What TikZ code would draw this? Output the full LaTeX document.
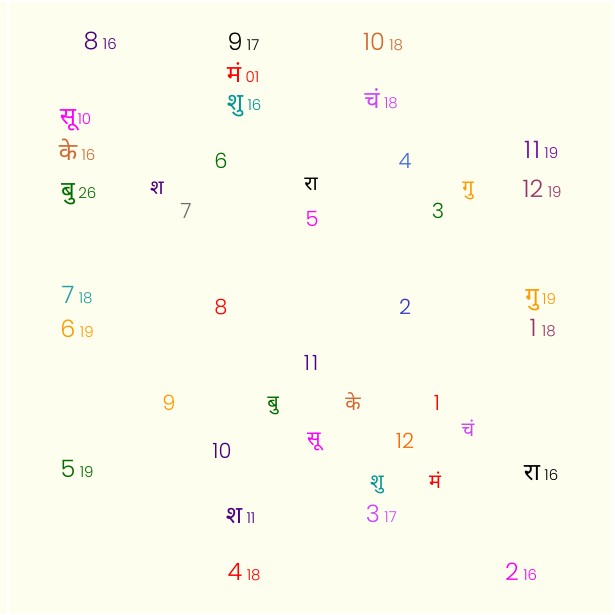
\documentclass[tikz,border=0pt]{standalone}
\usepackage{fontspec}
\setmainfont{Poppins}[UprightFont={* Light}]
\newfontfamily\dev[Script=Devanagari]{Noto Sans}
\definecolor{bgiv}{RGB}{254,254,238}
\definecolor{cindigo}{RGB}{75,0,130}
\definecolor{cteal}{RGB}{0,150,150}
\definecolor{cteall}{RGB}{32,160,160}
\definecolor{cchoc}{RGB}{210,105,50}
\definecolor{cviolet}{RGB}{204,68,255}
\definecolor{cmag}{RGB}{255,0,255}
\definecolor{cgreen}{RGB}{0,110,0}
\definecolor{cpurple}{RGB}{110,10,160}
\definecolor{cmaroon}{RGB}{153,51,102}
\definecolor{corange}{RGB}{255,153,0}
\definecolor{cored}{RGB}{255,102,0}
\definecolor{croyal}{RGB}{65,105,225}
\definecolor{cblue}{RGB}{51,51,204}
\definecolor{cgray}{RGB}{110,110,110}
\begin{document}
\begin{tikzpicture}[x=1pt,y=-1pt,
  big/.style={inner sep=0pt,anchor=center,font=\fontsize{24}{26}\selectfont},
  bigdev/.style={inner sep=0pt,anchor=center,font=\fontsize{24}{26}\selectfont\dev},
  sub/.style={inner sep=0pt,anchor=base west,font=\fontsize{15}{17}\selectfont},
  inr/.style={inner sep=0pt,anchor=center,font=\fontsize{21}{23}\selectfont},
  inrdev/.style={inner sep=0pt,anchor=center,font=\fontsize{20}{22}\selectfont\dev}]
\useasboundingbox (0,0) rectangle (615,614);
\fill[bgiv] (0,0) rectangle (615,614);
\fill[white] (7,0) rectangle (10,614);
\fill[white] (0,0) rectangle (615,2);
\fill[white] (612,0) rectangle (615,614);
% outer labels with degrees
\node[big,cindigo] (o8) at (91,41) {8};
\node[sub,cindigo] (o8s) at ([xshift=4pt]o8.base east) {16};
\node[big,black] (o9) at (235,42) {9};
\node[sub,black] (o9s) at ([xshift=4pt]o9.base east) {17};
\node[bigdev,red] (oMa) at (234,73) {मं};
\node[sub,red] (oMas) at ([xshift=4pt]oMa.base east) {01};
\node[bigdev,cteal] (oShu) at (235,106) {शु};
\node[sub,cteal] (oShus) at ([xshift=4pt]oShu.base east) {16};
\node[big,cchoc] (o10) at (374,42) {10};
\node[sub,cchoc] (o10s) at ([xshift=4pt]o10.base east) {18};
\node[bigdev,cviolet] (oCh) at (372,99) {चं};
\node[sub,cviolet] (oChs) at ([xshift=4pt]oCh.base east) {18};
\node[bigdev,cmag] (oSu) at (68,120) {सू};
\node[sub,cmag] (oSus) at ([xshift=1pt]oSu.base east) {10};
\node[bigdev,cchoc] (oKe) at (68,150) {के};
\node[sub,cchoc] (oKes) at ([xshift=4pt]oKe.base east) {16};
\node[bigdev,cgreen] (oBu) at (68,194) {बु};
\node[sub,cgreen] (oBus) at ([xshift=3pt]oBu.base east) {26};
\node[big,cpurple] (o11) at (532,150) {1\kern2pt1};
\node[sub,cpurple] (o11s) at ([xshift=4pt]o11.base east) {19};
\node[big,cmaroon] (o12) at (533,189) {12};
\node[sub,cmaroon] (o12s) at ([xshift=4pt]o12.base east) {19};
\node[big,cteall] (o7) at (68,295) {7};
\node[sub,cteall] (o7s) at ([xshift=4pt]o7.base east) {18};
\node[big,corange] (o6) at (68,329) {6};
\node[sub,corange] (o6s) at ([xshift=4pt]o6.base east) {19};
\node[bigdev,corange] (oGu) at (532,300) {गु};
\node[sub,corange] (oGus) at ([xshift=3pt]oGu.base east) {19};
\node[big,cmaroon] (o1) at (533,328) {1};
\node[sub,cmaroon] (o1s) at ([xshift=5pt]o1.base east) {18};
\node[big,cgreen] (o5) at (68,469) {5};
\node[sub,cgreen] (o5s) at ([xshift=4pt]o5.base east) {19};
\node[bigdev,black] (oRa) at (532,473) {रा};
\node[sub,black] (oRas) at ([xshift=4pt]oRa.base east) {16};
\node[bigdev,cindigo] (oSha) at (234,516) {श};
\node[sub,cindigo] (oShas) at ([xshift=4pt]oSha.base east) {11};
\node[big,cviolet] (o3) at (373,514) {3};
\node[sub,cviolet] (o3s) at ([xshift=4pt]o3.base east) {17};
\node[big,red] (o4) at (235,572) {4};
\node[sub,red] (o4s) at ([xshift=4pt]o4.base east) {18};
\node[big,cmag] (o2) at (512,572) {2};
\node[sub,cmag] (o2s) at ([xshift=4pt]o2.base east) {16};
% inner chart
\node[inr,cgreen] (i6) at (221,161) {6};
\node[inrdev,cindigo] (iSha) at (157,188) {श};
\node[inr,cgray] (i7) at (186,211) {7};
\node[inrdev,black] (iRa) at (311,184) {रा};
\node[inr,cmag] (i5) at (312,219) {5};
\node[inr,croyal] (i4) at (405,161) {4};
\node[inrdev,corange] (iGu) at (468,191) {गु};
\node[inr,cgreen] (i3) at (438,211) {3};
\node[inr,red] (i8) at (221,307) {8};
\node[inr,cblue] (i2) at (405,307) {2};
\node[inr,cindigo] (i11) at (311,363) {1\kern2pt1};
\node[inr,corange] (i9) at (169,403) {9};
\node[inrdev,cgreen] (iBu) at (273,406) {बु};
\node[inrdev,cchoc] (iKe) at (353,402) {के};
\node[inr,red] (i1) at (437,403) {1};
\node[inrdev,cviolet] (iCh) at (468,428) {चं};
\node[inrdev,cmag] (iSu) at (314,442) {सू};
\node[inr,cored] (i12) at (405,441) {12};
\node[inr,cindigo] (i10) at (222,451) {10};
\node[inrdev,cteal] (iShu) at (377,485) {शु};
\node[inrdev,red] (iMa) at (435,480) {मं};
\end{tikzpicture}
\end{document}
